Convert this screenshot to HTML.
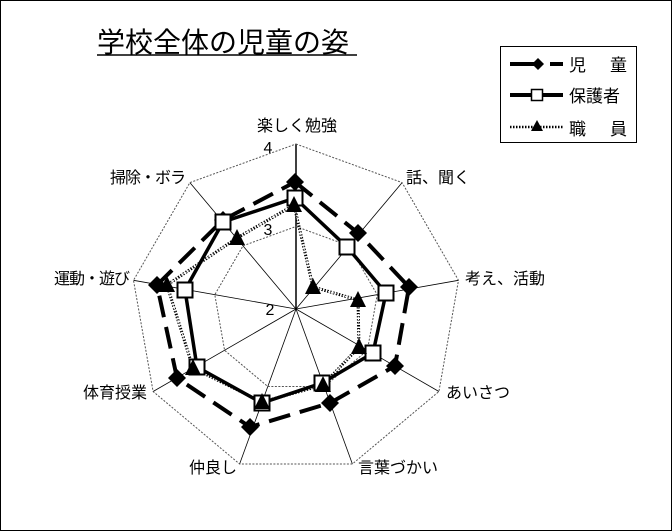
<!DOCTYPE html>
<html><head><meta charset="utf-8"><style>
html,body{margin:0;padding:0;background:#fff;}
svg{display:block;}
text{font-family:"Liberation Sans","Noto Sans CJK JP",sans-serif;fill:#000;}
</style></head><body>
<svg width="672" height="531" viewBox="0 0 672 531" xmlns="http://www.w3.org/2000/svg">
<rect x="0.5" y="0.5" width="671" height="530" fill="#fff" stroke="#000" stroke-width="1"/>
<text x="97" y="52" font-size="28">学校全体の児童の姿</text>
<line x1="97" y1="55" x2="357" y2="55" stroke="#000" stroke-width="1.5"/>
<g id="grid"></g>
<g font-size="16">
<text x="297" y="131" text-anchor="middle">楽しく勉強</text>
<text x="406" y="183">話、聞く</text>
<text x="465" y="284">考え、活動</text>
<text x="446" y="398">あいさつ</text>
<text x="358" y="473">言葉づかい</text>
<text x="237" y="473" text-anchor="end">仲良し</text>
<text x="147" y="398" text-anchor="end">体育授業</text>
<text x="129" y="284" text-anchor="end" letter-spacing="-1">運動・遊び</text>
<text x="185" y="183" text-anchor="end" letter-spacing="-1">掃除・ボラ</text>
<text x="268" y="153" text-anchor="middle">4</text>
<text x="268" y="235" text-anchor="middle">3</text>
<text x="270" y="315" text-anchor="middle">2</text>
</g>
<!-- staff dotted -->
<polygon points="294,205 313,287 358,300 359,347 323,385 262,402 193,368 167,285 237,238" fill="none" stroke="#000" stroke-width="3" stroke-dasharray="1.5,1.5"/>
<polygon points="294,205 313,287 358,300 359,347 323,385 262,402 193,368 167,285 237,238" fill="none" stroke="#fff" stroke-width="1.2" stroke-dasharray="1,1.5"/>
<!-- parents solid -->
<polygon points="295,198 347,247 386,293 373,353 322,383 262,403 197,367 185,290 223,222" fill="none" stroke="#000" stroke-width="3.5"/>
<!-- children dashed -->
<polygon points="295,182 358,233 409,287 395,366 330,403 250,427 177,378 157,285 223,220" fill="none" stroke="#000" stroke-width="4" stroke-dasharray="22,10"/>
<g id="marks"></g>
<!-- legend -->
<rect x="500.5" y="46.5" width="136" height="96" fill="#fff" stroke="#000" stroke-width="1"/>
<line x1="510" y1="64" x2="536" y2="64" stroke="#000" stroke-width="4"/>
<line x1="550" y1="64" x2="563" y2="64" stroke="#000" stroke-width="4"/>
<polygon points="538,58 544,64 538,70 532,64" fill="#000"/>
<line x1="510" y1="95" x2="563" y2="95" stroke="#000" stroke-width="4"/>
<rect x="531.5" y="89.5" width="11" height="11" fill="#fff" stroke="#000" stroke-width="1.5"/>
<line x1="510" y1="127" x2="563" y2="127" stroke="#000" stroke-width="2.5" stroke-dasharray="1.5,1.5"/>
<polygon points="537,120 543,131 531,131" fill="#000"/>
<g font-size="17">
<text x="569" y="71">児</text><text x="610" y="71">童</text>
<text x="569" y="102">保護者</text>
<text x="569" y="135">職</text><text x="610" y="135">員</text>
</g>
</svg>
<script>
var cx=296,cy=309,R=165,ns="http://www.w3.org/2000/svg";
var g=document.getElementById('grid');
function pts(r){var a=[];for(var k=0;k<9;k++){var t=(-90+40*k)*Math.PI/180;a.push((cx+r*Math.cos(t)).toFixed(1)+','+(cy+r*Math.sin(t)).toFixed(1));}return a;}
function el(n,at,p){var e=document.createElementNS(ns,n);for(var k in at)e.setAttribute(k,at[k]);p.appendChild(e);return e;}
var o=pts(R);
for(var k=0;k<9;k++){var p=o[k].split(',');el('line',{x1:cx,y1:cy,x2:p[0],y2:p[1],stroke:'#000','stroke-width':k==0?1.5:0.8},g);}
el('polygon',{points:o.join(' '),fill:'none',stroke:'#555','stroke-width':1,'stroke-dasharray':'2,1.5'},g);
el('polygon',{points:pts(R/2).join(' '),fill:'none',stroke:'#555','stroke-width':1,'stroke-dasharray':'2,1.5'},g);
var m=document.getElementById('marks');
var s3=[[294,205],[313,287],[358,300],[359,347],[323,385],[262,402],[193,368],[167,285],[237,238]];
var s2=[[295,198],[347,247],[386,293],[373,353],[322,383],[262,403],[197,367],[185,290],[223,222]];
var s1=[[295,182],[358,233],[409,287],[395,366],[330,403],[250,427],[177,378],[157,285],[223,220]];
s1.forEach(function(q){el('polygon',{points:(q[0])+','+(q[1]-9)+' '+(q[0]+9)+','+q[1]+' '+q[0]+','+(q[1]+9)+' '+(q[0]-9)+','+q[1],fill:'#000'},m);});
s2.forEach(function(q){el('rect',{x:q[0]-7.5,y:q[1]-7.5,width:15,height:15,fill:'#fff',stroke:'#000','stroke-width':2},m);});
s3.forEach(function(q){el('polygon',{points:q[0]+','+(q[1]-9)+' '+(q[0]+8)+','+(q[1]+7)+' '+(q[0]-8)+','+(q[1]+7),fill:'#000'},m);});
</script>
</body></html>
